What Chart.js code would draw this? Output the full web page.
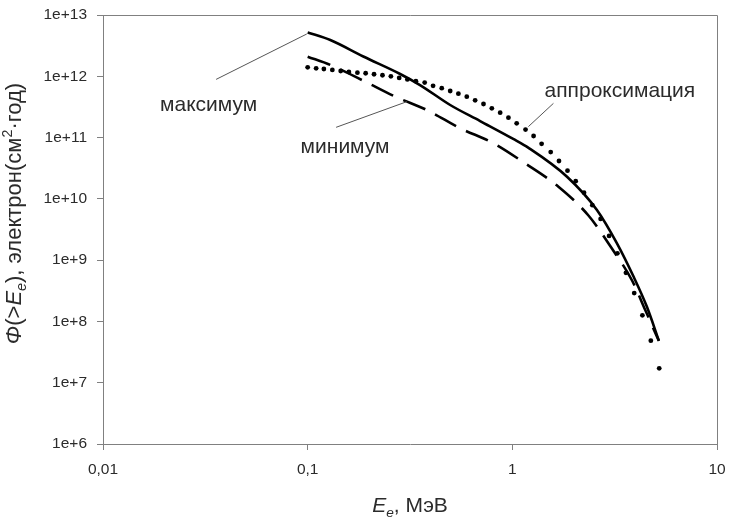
<!DOCTYPE html>
<html><head><meta charset="utf-8">
<script src="https://cdn.jsdelivr.net/npm/chart.js@4.4.1/dist/chart.umd.min.js"></script>
<style>html,body{margin:0;padding:0;background:#fff}#wrap{width:729px;height:523px}</style>
</head><body><div id="wrap"><canvas id="c" width="729" height="523"></canvas></div>
<script>
const xTickValues = [0.01, 0.1, 1, 10];
const xTickLabels = ['0,01', '0,1', '1', '10'];
const yTickValues = [1e6, 1e7, 1e8, 1e9, 1e10, 1e11, 1e12, 1e13];
const yTickLabels = ['1e+6', '1e+7', '1e+8', '1e+9', '1e+10', '1e+11', '1e+12', '1e+13'];

// максимум (solid)
const maxE    = [0.1, 0.129, 0.187, 0.283, 0.354, 0.497, 0.696, 1.01, 1.2, 1.85, 2.59, 3.24, 3.91, 4.54, 5.2];
const maxFlux = [5.2e12, 3.9e12, 2.1e12, 1.09e12, 7.2e11, 3.4e11, 1.86e11, 9.5e10, 6.8e10, 2.3e10, 6.6e9, 1.9e9, 5.4e8, 1.75e8, 4.85e7];

// минимум (dashed)
const minE    = [0.1, 0.129, 0.184, 0.268, 0.382, 0.556, 0.808, 1.155, 1.68, 2.36, 3.06, 3.84, 4.46, 5.2];
const minFlux = [2.09e12, 1.53e12, 8.7e11, 4.65e11, 2.82e11, 1.42e11, 8.1e10, 3.8e10, 1.58e10, 5.3e9, 1.56e9, 4.7e8, 1.54e8, 4.8e7];

// аппроксимация (dots)
const apprE = [0.1, 0.11, 0.12, 0.132, 0.145, 0.159, 0.175, 0.192, 0.211, 0.232, 0.255, 0.28, 0.307, 0.338, 0.373,
  0.41, 0.452, 0.497, 0.545, 0.599, 0.658, 0.723, 0.794, 0.872, 0.957, 1.05, 1.16, 1.27, 1.39, 1.54, 1.69, 1.86,
  2.04, 2.24, 2.46, 2.7, 2.97, 3.26, 3.59, 3.94, 4.32, 4.75, 5.22];
const apprFlux = [1.40e12, 1.35e12, 1.315e12, 1.27e12, 1.22e12, 1.175e12, 1.145e12, 1.12e12, 1.08e12, 1.04e12, 1.0e12,
  9.4e11, 8.9e11, 8.3e11, 7.9e11, 7.0e11, 6.4e11, 5.75e11, 5.2e11, 4.65e11, 4.06e11, 3.53e11, 3.0e11, 2.55e11, 2.11e11,
  1.71e11, 1.35e11, 1.06e11, 7.9e10, 5.8e10, 4.15e10, 2.88e10, 1.94e10, 1.26e10, 7.9e9, 4.7e9, 2.48e9, 1.29e9, 6.2e8,
  2.9e8, 1.26e8, 4.85e7, 1.72e7];

// annotation texts and leader lines, in data units
const annotations = [
  {text: 'максимум', tx: 0.0328, ty: 2.75e11, x1: 0.0357, y1: 8.9e11, x2: 0.099, y2: 4.9e12},
  {text: 'минимум', tx: 0.1523, ty: 5.54e10, x1: 0.1377, y1: 1.47e11, x2: 0.305, y2: 3.85e11},
  {text: 'аппроксимация', tx: 3.353, ty: 4.65e11, x1: 1.198, y1: 1.51e11, x2: 1.588, y2: 3.62e11}
];

const FAMILY = "'Liberation Sans', Arial, sans-serif";
const TEXT = '#2b2b2b';
const AXIS = '#808080';

function pts(xs, ys) { return xs.map((x, i) => ({x: x, y: ys[i]})); }

function drawRich(ctx, parts, size) {
  let total = 0;
  parts.forEach(p => {
    const s = (p.sub || p.sup) ? size * 0.65 : size;
    p.font = (p.it ? 'italic ' : '') + s + 'px ' + FAMILY;
    ctx.font = p.font;
    p.w = ctx.measureText(p.t).width;
    p.dy = p.sub ? size * 0.22 : (p.sup ? -size * 0.42 : 0);
    total += p.w;
  });
  let x = -total / 2;
  parts.forEach(p => { ctx.font = p.font; ctx.fillText(p.t, x, p.dy); x += p.w; });
}

const decor = {
  id: 'decor',
  afterDraw(chart) {
    const ctx = chart.ctx, a = chart.chartArea;
    const xs = chart.scales.x, ys = chart.scales.y;
    ctx.save();
    // frame top & right
    ctx.strokeStyle = AXIS; ctx.lineWidth = 1;
    ctx.beginPath();
    ctx.moveTo(a.left, a.top + 0.5); ctx.lineTo(a.right + 0.5, a.top + 0.5); ctx.lineTo(a.right + 0.5, a.bottom);
    ctx.stroke();
    // annotations
    ctx.strokeStyle = '#555'; ctx.lineWidth = 1;
    ctx.fillStyle = TEXT; ctx.textAlign = 'center'; ctx.textBaseline = 'alphabetic';
    ctx.font = '21px ' + FAMILY;
    annotations.forEach(an => {
      ctx.beginPath();
      ctx.moveTo(xs.getPixelForValue(an.x1), ys.getPixelForValue(an.y1));
      ctx.lineTo(xs.getPixelForValue(an.x2), ys.getPixelForValue(an.y2));
      ctx.stroke();
      ctx.fillText(an.text, xs.getPixelForValue(an.tx), ys.getPixelForValue(an.ty));
    });
    // axis titles
    ctx.textAlign = 'left';
    ctx.save();
    ctx.translate((a.left + a.right) / 2, a.bottom + 68);
    drawRich(ctx, [{t: 'E', it: true}, {t: 'e', it: true, sub: true}, {t: ', МэВ'}], 21);
    ctx.restore();
    ctx.save();
    ctx.translate(a.left - 82, (a.top + a.bottom) / 2 - 16);
    ctx.rotate(-Math.PI / 2);
    drawRich(ctx, [{t: 'Φ', it: true}, {t: '(>'}, {t: 'E', it: true}, {t: 'e', it: true, sub: true},
      {t: '), электрон(см'}, {t: '2', sup: true}, {t: '·год)'}], 22);
    ctx.restore();
    ctx.restore();
  }
};

new Chart(document.getElementById('c'), {
  type: 'scatter',
  data: {
    datasets: [
      {label: 'максимум', data: pts(maxE, maxFlux), showLine: true, borderColor: '#000', borderWidth: 2.6,
        pointRadius: 0, cubicInterpolationMode: 'monotone', fill: false},
      {label: 'минимум', data: pts(minE, minFlux), showLine: true, borderColor: '#000', borderWidth: 2.6,
        borderDash: [24, 11], pointRadius: 0, cubicInterpolationMode: 'monotone', fill: false},
      {label: 'аппроксимация', data: pts(apprE, apprFlux), showLine: false, pointRadius: 2.4,
        pointBackgroundColor: '#000', pointBorderColor: '#000', pointBorderWidth: 0}
    ]
  },
  options: {
    responsive: false, animation: false, devicePixelRatio: 1,
    layout: {padding: {top: 15, right: 12, left: 0, bottom: 0}},
    plugins: {legend: {display: false}, tooltip: {enabled: false}},
    scales: {
      x: {
        type: 'logarithmic', position: 'bottom', min: 0.01, max: 10,
        afterBuildTicks: s => { s.ticks = xTickValues.map(v => ({value: v})); },
        afterFit: s => { s.height = 79; s.paddingLeft = 0; s.paddingRight = 0; },
        ticks: {autoSkip: false, maxRotation: 0, padding: 10, color: TEXT, font: {size: 15.5, family: FAMILY},
          callback: v => xTickLabels[xTickValues.indexOf(v)]},
        grid: {drawOnChartArea: false, drawTicks: true, tickLength: 6, color: AXIS},
        border: {color: AXIS, width: 1}
      },
      y: {
        type: 'logarithmic', position: 'left', min: 1e6, max: 1e13,
        afterBuildTicks: s => { s.ticks = yTickValues.map(v => ({value: v})); },
        afterFit: s => { s.width = 103; s.paddingTop = 0; s.paddingBottom = 0; },
        ticks: {autoSkip: false, padding: 10, color: TEXT, font: {size: 15.5, family: FAMILY},
          callback: v => yTickLabels[yTickValues.indexOf(v)]},
        grid: {drawOnChartArea: false, drawTicks: true, tickLength: 6, color: AXIS},
        border: {color: AXIS, width: 1}
      }
    }
  },
  plugins: [decor]
});
</script>
</body></html>
